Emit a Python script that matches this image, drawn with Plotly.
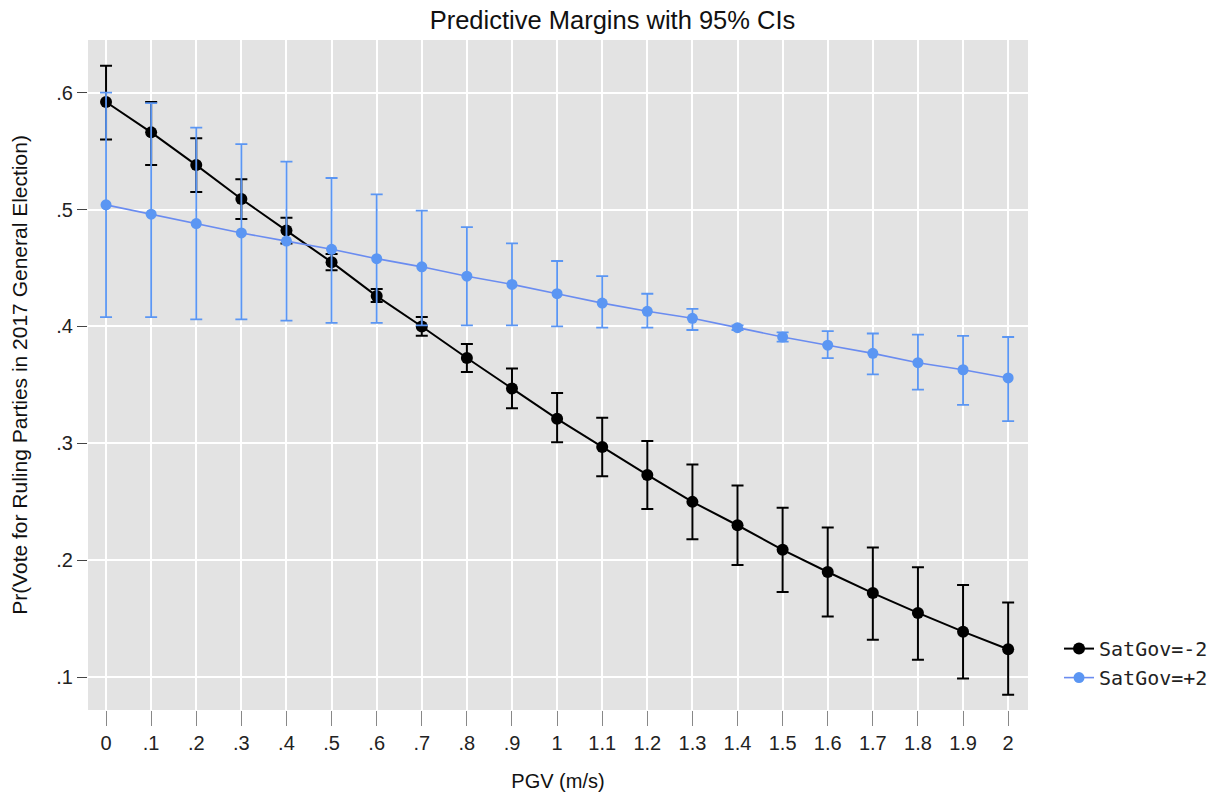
import plotly.graph_objects as go

pgv = [0, .1, .2, .3, .4, .5, .6, .7, .8, .9, 1.0, 1.1, 1.2, 1.3, 1.4, 1.5, 1.6, 1.7, 1.8, 1.9, 2.0]

# SatGov = -2
neg_est = [.592, .566, .538, .509, .482, .455, .426, .400, .373, .347, .321, .297, .273, .250, .230, .209, .190, .172, .155, .139, .124]
neg_lo  = [.560, .538, .515, .492, .471, .448, .421, .392, .361, .330, .301, .272, .244, .218, .196, .173, .152, .132, .115, .099, .085]
neg_hi  = [.623, .592, .561, .526, .493, .462, .432, .408, .385, .364, .343, .322, .302, .282, .264, .245, .228, .211, .194, .179, .164]

# SatGov = +2
pos_est = [.504, .496, .488, .480, .473, .466, .458, .451, .443, .436, .428, .420, .413, .407, .399, .391, .384, .377, .369, .363, .356]
pos_lo  = [.408, .408, .406, .406, .405, .403, .403, .401, .401, .401, .400, .399, .399, .397, .397, .387, .373, .359, .346, .333, .319]
pos_hi  = [.600, .591, .570, .556, .541, .527, .513, .499, .485, .471, .456, .443, .428, .415, .401, .395, .396, .394, .393, .392, .391]

x_tickvals = pgv
x_ticktext = ["0", ".1", ".2", ".3", ".4", ".5", ".6", ".7", ".8", ".9", "1", "1.1", "1.2", "1.3", "1.4", "1.5", "1.6", "1.7", "1.8", "1.9", "2"]
y_tickvals = [.1, .2, .3, .4, .5, .6]
y_ticktext = [".1", ".2", ".3", ".4", ".5", ".6"]

black = "#000000"
blue = "#5b96f3"

fig = go.Figure()
fig.add_trace(go.Scatter(
    x=pgv, y=neg_est, mode="lines+markers", name="SatGov=-2",
    line=dict(color=black, width=2),
    marker=dict(color=black, size=12),
    error_y=dict(type="data", symmetric=False,
                 array=[h - e for h, e in zip(neg_hi, neg_est)],
                 arrayminus=[e - l for e, l in zip(neg_est, neg_lo)],
                 color=black, thickness=2, width=6),
))
fig.add_trace(go.Scatter(
    x=pgv, y=pos_est, mode="lines+markers", name="SatGov=+2",
    line=dict(color="#6a8cf0", width=1.6),
    marker=dict(color=blue, size=11),
    error_y=dict(type="data", symmetric=False,
                 array=[h - e for h, e in zip(pos_hi, pos_est)],
                 arrayminus=[e - l for e, l in zip(pos_est, pos_lo)],
                 color=blue, thickness=1.8, width=6),
))

tick_font = dict(family="Liberation Sans, Arial, sans-serif", size=20, color="#222222")

fig.update_layout(
    width=1225, height=801,
    margin=dict(l=88, r=197, t=40, b=91),
    paper_bgcolor="white",
    plot_bgcolor="#e3e3e3",
    font=dict(family="Liberation Sans, Arial, sans-serif", size=19, color="#111111"),
    title=dict(text="Predictive Margins with 95% CIs", x=0.5, xanchor="center",
               y=0.986, yanchor="top", font=dict(size=25.5)),
    showlegend=True,
    legend=dict(x=1.033, y=0.07, xanchor="left", yanchor="middle",
                bgcolor="rgba(0,0,0,0)", tracegroupgap=0,
                font=dict(family="DejaVu Sans Mono, monospace", size=20, color="#222")),
    xaxis=dict(range=[-0.04, 2.044], tickvals=x_tickvals, ticktext=x_ticktext,
               tickfont=tick_font,
               showgrid=True, gridcolor="white", gridwidth=2, zeroline=False,
               ticks="outside", ticklen=15, tickcolor="#888888", tickwidth=1,
               automargin=False,
               title=dict(text="PGV (m/s)", standoff=20, font=dict(size=20)), showline=False),
    yaxis=dict(range=[0.072, 0.645], tickvals=y_tickvals, ticktext=y_ticktext,
               tickfont=tick_font,
               showgrid=True, gridcolor="white", gridwidth=2, zeroline=False,
               ticks="outside", ticklen=10, tickcolor="#444444", tickwidth=1,
               automargin=False,
               title=dict(text="Pr(Vote for Ruling Parties in 2017 General Election)", standoff=22,
                          font=dict(size=21)),
               showline=False),
)

fig.write_html("out.html", config={"displayModeBar": False},
               post_script="document.body.style.margin='0';document.body.style.overflow='hidden';")
